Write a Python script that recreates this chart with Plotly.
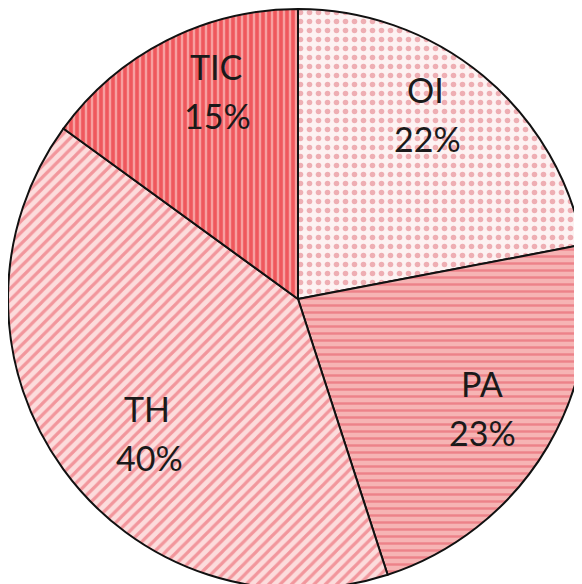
import plotly.graph_objects as go

labels = ["OI", "PA", "TH", "TIC"]
values = [22, 23, 40, 15]
shapes = [".", "-", "/", "|"]
fgcolors = ["#e06a74", "#e4505e", "#e8505c", "#e8101a"]
bgcolors = ["#fdf2f2", "#f6b4b4", "#fcdcdc", "#f7a0a0"]

W, H = 582, 584
# label anchor pixels (label line, percent line)
label_px = [(419, 82), (476, 377), (139, 402), (209, 59)]
pct_px = [(421, 131), (476, 426), (142, 451), (210, 108)]

fig = go.Figure(go.Pie(
    labels=labels,
    values=values,
    sort=False,
    direction="clockwise",
    rotation=0,
    textinfo="none",
    marker=dict(
        colors=bgcolors,
        line=dict(color="#111111", width=2),
        pattern=dict(shape=shapes, fgcolor=fgcolors, bgcolor=bgcolors,
                     size=[9, 7, 8, 6], solidity=[0.3, 0.35, 0.4, 0.6], fillmode="overlay"),
    ),
    showlegend=False,
    domain=dict(x=[0, 1], y=[0, 1]),
))

total = sum(values)
for lab, v, (lx, ly), (px, py) in zip(labels, values, label_px, pct_px):
    fig.add_annotation(x=lx / W, y=1 - ly / H, xref="paper", yref="paper",
                       xanchor="center", yanchor="middle",
                       text=lab, showarrow=False,
                       font=dict(family="Lato", size=34, color="#1a1a1a"))
    fig.add_annotation(x=px / W, y=1 - py / H, xref="paper", yref="paper",
                       xanchor="center", yanchor="middle",
                       text=f"{round(100 * v / total)}%", showarrow=False,
                       font=dict(family="Lato", size=34, color="#1a1a1a"))

fig.update_layout(
    width=W, height=H,
    margin=dict(l=0, r=2, t=0, b=2),
    paper_bgcolor="white",
)

fig.write_html("out.html")
